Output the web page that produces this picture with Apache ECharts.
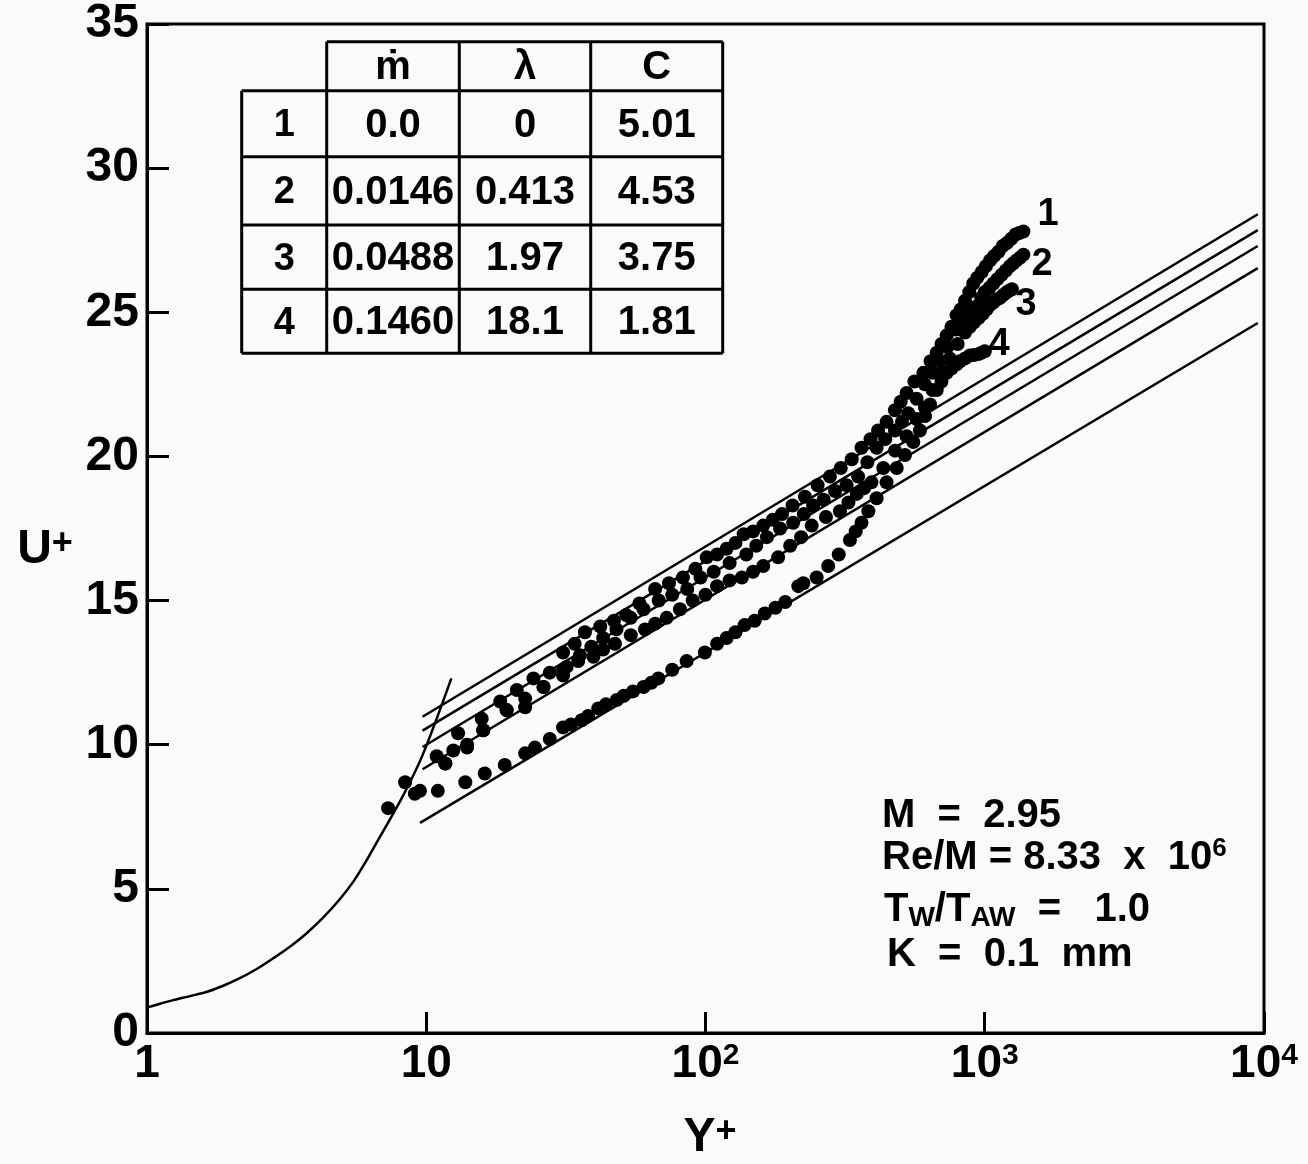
<!DOCTYPE html>
<html><head><meta charset="utf-8">
<script src="https://cdn.jsdelivr.net/npm/echarts@6/dist/echarts.min.js"></script>
<style>html,body{margin:0;padding:0;background:#fafafa}#c{width:1308px;height:1164px}</style>
</head><body><div id="c"></div>
<script>
// ---------------- data ----------------
const xTicks = [1, 10, 100, 1000, 10000];
const yTicks = [0, 5, 10, 15, 20, 25, 30, 35];

// sublayer / buffer curve
const sublayerX = [1, 1.083, 1.24, 1.426, 1.64, 1.876, 2.15, 2.47, 2.83, 3.25, 3.73, 4.28, 4.91, 5.48, 6.12, 6.83, 8.28, 9.76, 12.3];
const sublayerU = [0.88, 0.98, 1.14, 1.28, 1.43, 1.64, 1.90, 2.22, 2.59, 2.99, 3.46, 4.01, 4.65, 5.25, 6.0, 6.81, 8.25, 9.7, 12.3];

// log-law lines (start / end points)
const lawStartX = [9.7, 9.7, 9.7, 9.7, 9.5];
const lawStartU = [10.97, 10.49, 9.92, 9.15, 7.29];
const lawEndX = [9500, 9500, 9500, 9500, 9500];
const lawEndU = [28.40, 27.85, 27.30, 26.53, 24.63];

// measured profiles (Y+, U+)
const run1 = [[7.3,7.8],[8.4,8.7],[10.9,9.6],[12.5,9.8],[13.0,10.4],[15.8,10.9],[18.4,11.5],[21.1,11.9],[24.2,12.3],[27.7,12.5],[30.9,13.2],[34,13.5],[37,13.9],[42,14.1],[47,14.3],[52,14.5],[58,14.9],[66,15.4],[74,15.6],[83,15.8],[92,16.1],[101,16.5],[110,16.6],[119,16.8],[128,17.0],[137,17.3],[148,17.4],[161,17.6],[174,17.8],[188,18.0],[205,18.3],[227,18.6],[252,19.0],[279,19.3],[305,19.6],[334,19.9],[362,20.3],[390,20.6],[415,20.9],[445,21.2],[477,21.6],[500,21.9],[525,22.2],[560,22.6],[603,22.9],[640,23.3],[673,23.6],[700,23.9],[731,24.2],[760,24.5],[793,24.9],[820,25.1],[850,25.4],[880,25.7],[910,26.0],[940,26.2],[975,26.4],[1010,26.6],[1045,26.8],[1080,26.95],[1120,27.1],[1160,27.3],[1200,27.4],[1245,27.55],[1290,27.7],[1330,27.75],[1375,27.8]];
const run2 = [[9.1,8.3],[11.7,9.35],[14,10.0],[16,10.5],[19.4,11.2],[22.6,11.6],[26.3,12.0],[30.9,12.6],[35.5,13.1],[39,13.4],[43,13.7],[48,14.0],[54,14.4],[60,14.7],[68,15.0],[76,15.2],[86,15.4],[96,15.8],[107,16.0],[122,16.3],[140,16.6],[152,16.9],[166,17.2],[185,17.5],[206,17.7],[225,18.0],[243,18.3],[265,18.5],[291,18.8],[320,19.0],[352,19.3],[380,19.8],[410,20.3],[440,20.6],[477,20.9],[505,21.2],[532,21.5],[570,22.0],[610,22.5],[650,22.9],[690,23.3],[735,23.8],[790,24.4],[820,24.6],[850,24.8],[890,25.0],[935,25.2],[970,25.5],[1000,25.7],[1040,25.85],[1074,26.0],[1110,26.15],[1150,26.3],[1190,26.45],[1231,26.6],[1265,26.7],[1300,26.8],[1340,26.9],[1375,27.0]];
const run3 = [[9.5,8.4],[11.7,9.35],[14,9.9],[16,10.5],[19.4,11.2],[22.6,11.3],[26.3,12.0],[30.9,12.4],[31.8,12.7],[35,12.9],[39.7,13.05],[43,13.3],[47.4,13.5],[54,13.8],[60.7,14.0],[66,14.2],[72.6,14.4],[81,14.7],[90,15.0],[100,15.2],[110,15.5],[122,15.7],[135,15.8],[148,16.0],[161,16.2],[182,16.5],[201,16.9],[220,17.2],[240,17.6],[270,17.9],[303,18.1],[325,18.4],[348,18.7],[370,18.9],[393,19.1],[433,19.6],[477,20.2],[525,20.7],[570,21.3],[611,21.7],[650,22.3],[700,22.9],[750,23.4],[800,23.9],[850,24.3],[885,24.5],[915,24.65],[950,24.8],[985,24.95],[1016,25.1],[1045,25.25],[1075,25.35],[1105,25.45],[1135,25.5],[1165,25.6],[1200,25.7],[1225,25.75],[1251,25.8]];
const run4 = [[11.0,8.4],[13.8,8.7],[16.2,9.0],[19.1,9.3],[22.6,9.7],[24.5,9.9],[27.7,10.2],[30.9,10.6],[33,10.7],[36,10.85],[38,11.0],[41.3,11.26],[44,11.4],[48.1,11.55],[51,11.7],[55,11.85],[60,12.0],[64,12.15],[67.8,12.3],[76,12.6],[85.6,12.9],[99.5,13.2],[110,13.5],[119,13.7],[128,13.9],[138,14.15],[150,14.3],[163,14.55],[178,14.75],[193,14.95],[215,15.5],[224,15.6],[250,15.8],[275,16.2],[300,16.6],[329,17.1],[345,17.4],[362,17.7],[383,18.1],[410,18.55],[445,19.1],[484,19.6],[518,20.05],[555,20.5],[586,20.9],[611,21.4],[637,21.8],[673,22.3],[700,22.6],[731,22.9],[760,23.05],[793,23.2],[815,23.3],[850,23.4],[885,23.5],[915,23.52],[950,23.55],[975,23.6],[1000,23.65]];
const runNames = ['1', '2', '3', '4'];

// table
const tableHeader = ['ṁ', 'λ', 'C'];
const tableRunNo = ['1', '2', '3', '4'];
const tableMdot = ['0.0', '0.0146', '0.0488', '0.1460'];
const tableLambda = ['0', '0.413', '1.97', '18.1'];
const tableC = ['5.01', '4.53', '3.75', '1.81'];

// conditions
const condLines = ['M  =  2.95', 'Re/M = 8.33  x  10{sup|6}', 'T{sub|W}/T{sub|AW}  =   1.0', 'K  =  0.1  mm'];

// ---------------- chart ----------------
const FONT = "'Liberation Sans', Arial, sans-serif";
const chart = echarts.init(document.getElementById('c'), null, {renderer: 'canvas'});

const series = [];
series.push({
  type: 'line', data: sublayerX.map((x, i) => [x, sublayerU[i]]), smooth: 0.3,
  symbol: 'none', lineStyle: {color: '#000', width: 2.5}, silent: true, z: 3
});
lawStartX.forEach((x0, i) => {
  series.push({
    type: 'line', data: [[x0, lawStartU[i]], [lawEndX[i], lawEndU[i]]],
    symbol: 'none', lineStyle: {color: '#000', width: 2.5}, silent: true, z: 3
  });
});
[run1, run2, run3, run4].forEach((d, i) => {
  series.push({
    type: 'scatter', name: runNames[i], data: d, symbol: 'circle', symbolSize: 14,
    itemStyle: {color: '#000', opacity: 1}, z: 4
  });
});

// table graphic
const colX = [241.7, 326.7, 459.3, 590.7, 722.7];
const rowY = [41.7, 90.7, 156.7, 225, 289.3, 353.3];
const tg = [];
const lw = 3;
tg.push({type: 'line', shape: {x1: colX[1], y1: rowY[0], x2: colX[4], y2: rowY[0]}, style: {stroke: '#000', lineWidth: lw}});
for (let r = 1; r < rowY.length; r++) {
  tg.push({type: 'line', shape: {x1: colX[0], y1: rowY[r], x2: colX[4], y2: rowY[r]}, style: {stroke: '#000', lineWidth: lw}});
}
tg.push({type: 'line', shape: {x1: colX[0], y1: rowY[1], x2: colX[0], y2: rowY[5]}, style: {stroke: '#000', lineWidth: lw}});
for (let c = 1; c < colX.length; c++) {
  tg.push({type: 'line', shape: {x1: colX[c], y1: rowY[0], x2: colX[c], y2: rowY[5]}, style: {stroke: '#000', lineWidth: lw}});
}
function cellText(txt, c, r, size) {
  return {type: 'text', x: (colX[c] + colX[c + 1]) / 2, y: (rowY[r] + rowY[r + 1]) / 2 + 2,
    style: {text: txt, fill: '#000', font: 'bold ' + size + 'px ' + FONT, align: 'center', verticalAlign: 'middle'}};
}
tableHeader.forEach((h, i) => tg.push(cellText(h, i + 1, 0, 40)));
for (let r = 0; r < 4; r++) {
  tg.push(cellText(tableRunNo[r], 0, r + 1, 38));
  tg.push(cellText(tableMdot[r], 1, r + 1, 40));
  tg.push(cellText(tableLambda[r], 2, r + 1, 40));
  tg.push(cellText(tableC[r], 3, r + 1, 40));
}

// conditions text
const condY = [816, 858, 910, 955];
const condX = [882, 882, 884, 887];
condLines.forEach((t, i) => {
  tg.push({type: 'text', x: condX[i], y: condY[i], style: {
    text: t, fill: '#000', font: 'bold 40px ' + FONT, verticalAlign: 'middle',
    rich: {
      sup: {fontSize: 26, fontWeight: 'bold', fontFamily: FONT, verticalAlign: 'top', lineHeight: 44, padding: [0, 0, 14, 0]},
      sub: {fontSize: 28, fontWeight: 'bold', fontFamily: FONT, verticalAlign: 'bottom', lineHeight: 44, padding: [14, 0, 0, 0]}
    }
  }});
});

// curve number labels
const runLabelPos = [[1048, 215], [1042, 265], [1026, 305], [999, 345]];
runNames.forEach((n, i) => {
  tg.push({type: 'text', x: runLabelPos[i][0], y: runLabelPos[i][1], style: {
    text: n, fill: '#000', font: 'bold 38px ' + FONT, align: 'center', verticalAlign: 'middle'}});
});

// axis titles
tg.push({type: 'text', x: 45, y: 550, style: {text: 'U{p|+}', fill: '#000', font: 'bold 48px ' + FONT,
  align: 'center', verticalAlign: 'middle', rich: {p: {fontSize: 36, fontWeight: 'bold', fontFamily: FONT, verticalAlign: 'top', padding: [0, 0, 8, 0]}}}});
tg.push({type: 'text', x: 710, y: 1138, style: {text: 'Y{p|+}', fill: '#000', font: 'bold 48px ' + FONT,
  align: 'center', verticalAlign: 'middle', rich: {p: {fontSize: 36, fontWeight: 'bold', fontFamily: FONT, verticalAlign: 'top', padding: [0, 0, 8, 0]}}}});

const option = {
  backgroundColor: '#fafafa',
  animation: false,
  grid: {left: 147, right: 44, top: 24, bottom: 131, show: true, borderColor: '#000', borderWidth: 3, backgroundColor: 'transparent'},
  xAxis: {
    type: 'log', logBase: 10, min: xTicks[0], max: xTicks[xTicks.length - 1],
    axisLine: {show: true, lineStyle: {color: '#000', width: 3}},
    axisTick: {show: true, inside: true, length: 21, lineStyle: {color: '#000', width: 3}},
    minorTick: {show: false}, splitLine: {show: false},
    axisLabel: {
      margin: 8, color: '#000', fontFamily: FONT, fontWeight: 'bold', fontSize: 46,
      formatter: v => {
        const e = Math.round(Math.log10(v));
        if (e === 0) return '1';
        if (e === 1) return '10';
        return '10{s|' + e + '}';
      },
      rich: {s: {fontSize: 30, fontWeight: 'bold', fontFamily: FONT, verticalAlign: 'top', padding: [0, 0, 16, 0]}}
    }
  },
  yAxis: {
    type: 'value', min: yTicks[0], max: yTicks[yTicks.length - 1], interval: 5,
    axisLine: {show: true, lineStyle: {color: '#000', width: 3}},
    axisTick: {show: true, inside: true, length: 22, lineStyle: {color: '#000', width: 3}},
    splitLine: {show: false},
    axisLabel: {margin: 8, color: '#000', fontFamily: FONT, fontWeight: 'bold', fontSize: 48}
  },
  series: series,
  graphic: tg
};
chart.setOption(option);
</script></body></html>
